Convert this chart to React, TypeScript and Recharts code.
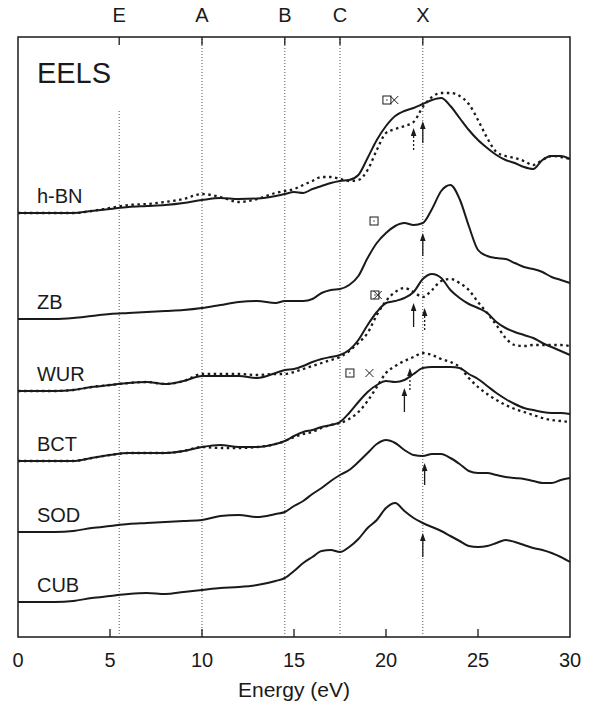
import React from "react";
import {ComposedChart, Line, Scatter, XAxis, YAxis, ReferenceLine, ReferenceArea, Label} from "recharts";

// energy grid (eV)
const energy = [0, 1, 2, 3, 4, 5, 6, 7, 8, 9, 10, 11, 12, 13, 14,
    14.5, 15, 15.5, 16, 16.5, 17, 17.5, 18, 18.5, 19, 19.5, 20, 20.5, 21, 21.5, 22,
    22.5, 23, 23.5, 24, 24.5, 25, 25.5, 26, 26.5, 27, 27.5, 28, 28.5, 29, 29.5, 30];

// intensities above each spectrum's own baseline (arb. units)
const hbnSolid = [0, 0, 0, 0, 2, 4, 6, 7, 8, 10, 13, 15, 14, 14.5, 17,
    19, 21, 20, 24, 27, 30, 32, 33, 38, 55, 73, 87, 97, 102, 105, 109,
    113, 115, 107, 95, 83, 73, 65, 58, 53, 50, 46, 44, 53, 57, 57, 54];
const hbnDotted = [0, 0, 0, 0, 2, 5, 8, 9, 11, 14, 19, 16, 11, 14, 20,
    22, 24, 28, 32, 36, 36, 34, 32, 33, 43, 63, 80, 84, 87, 91, 106,
    116, 120, 120, 117, 109, 93, 75, 61, 57, 55, 52, 48, 53, 57, 56, 54];
const zbSolid = [0, 0, 0, 1, 3, 5, 6, 7, 8, 9, 11, 14, 17, 18, 16,
    18, 18, 18, 20, 26, 29, 30, 34, 43, 61, 76, 86, 93, 96, 94, 96,
    110, 128, 134, 120, 93, 69, 63, 61, 60, 56, 52, 50, 47, 42, 39, 36];
const wurSolid = [0, 0, 0, 1, 4, 6, 8, 9, 7, 10, 15, 15, 15, 13, 18,
    21, 22, 25, 29, 32, 34, 36, 41, 51, 66, 79, 88, 90, 93, 99, 112,
    117, 113, 101, 93, 87, 83, 78, 69, 63, 59, 56, 53, 48, 44, 40, 36];
const wurDotted = [0, 0, 0, 1, 4, 6, 8, 9, 7, 10, 17, 17, 17, 16, 17,
    17, 19, 22, 25, 28, 31, 34, 40, 48, 58, 76, 90, 99, 103, 99, 94,
    101, 110, 112, 108, 101, 89, 78, 66, 53, 46, 45, 46, 46, 46, 46, 45];
const bctSolid = [0, 0, 0, 0, 3, 6, 8, 8, 8, 10, 14, 16, 14, 14, 17,
    20, 25, 29, 31, 34, 36, 39, 48, 59, 69, 76, 80, 79, 81, 87, 93,
    94, 94, 94, 93, 87, 82, 75, 68, 62, 57, 53, 51, 49, 48, 48, 47];
const bctDotted = [0, 0, 0, 0, 3, 6, 8, 8, 8, 10, 14, 13, 13, 14, 17,
    20, 24, 27, 29, 33, 36, 38, 42, 49, 60, 74, 88, 95, 100, 104, 108,
    106, 102, 99, 94, 83, 74, 67, 61, 56, 52, 49, 46, 43, 41, 40, 39];
const sodSolid = [0, 0, 0, 1, 4, 6, 8, 9, 10, 11, 12, 16, 17, 15, 18,
    20, 26, 31, 38, 44, 51, 57, 62, 70, 79, 88, 92, 89, 82, 77, 76,
    78, 78, 74, 68, 61, 59, 59, 57, 55, 54, 53, 51, 49, 49, 52, 54];
const cubSolid = [0, 0, 0, 1, 4, 6, 8, 9, 8, 10, 12, 14, 15, 17, 21,
    24, 31, 39, 45, 51, 52, 50, 55, 63, 74, 82, 94, 99, 91, 84, 79,
    75, 71, 66, 61, 56, 55, 56, 59, 62, 60, 57, 54, 52, 49, 45, 40];

const spectrumNames = ["h-BN", "ZB", "WUR", "BCT", "SOD", "CUB"];
const spectrumOffsets = [424, 318, 246, 176, 105, 35];

const edgeLetters = ["E", "A", "B", "C", "X"];
const edgeEnergies = [5.5, 10, 14.5, 17.5, 22];
const xTicks = [0, 5, 10, 15, 20, 25, 30];
const innerTicks = [5, 10, 15, 20, 25];

// theoretical peak markers and arrows
const squareMarks = [{e: 20.05, v: 537}, {e: 19.35, v: 416}, {e: 19.4, v: 342}, {e: 18.04, v: 264}];
const crossMarks = [{e: 20.45, v: 537}, {e: 19.55, v: 342}, {e: 19.1, v: 264}];
const solidArrows = [
    {e: 22, from: 494, to: 516}, {e: 22, from: 381, to: 404}, {e: 21.5, from: 310, to: 334},
    {e: 21, from: 225, to: 249}, {e: 22.1, from: 152, to: 174}, {e: 22, from: 80, to: 104}];
const dottedArrows = [{e: 21.5, from: 487, to: 509}, {e: 22.1, from: 307, to: 329}, {e: 21.3, from: 247, to: 269}];

const chartData = energy.map((e, i) => ({
    e,
    hbn: spectrumOffsets[0] + hbnSolid[i],
    hbnD: spectrumOffsets[0] + hbnDotted[i],
    zb: spectrumOffsets[1] + zbSolid[i],
    wur: spectrumOffsets[2] + wurSolid[i],
    wurD: spectrumOffsets[2] + wurDotted[i],
    bct: spectrumOffsets[3] + bctSolid[i],
    bctD: spectrumOffsets[3] + bctDotted[i],
    sod: spectrumOffsets[4] + sodSolid[i],
    cub: spectrumOffsets[5] + cubSolid[i],
}));

const nameData = spectrumNames.map((name, i) => ({e: 1.03, v: spectrumOffsets[i] + 17, name}));
const titleData = [{e: 1.03, v: 564, name: "EELS"}];

const INK = "#1a1a1a";
const FONT = "'Liberation Sans', Arial, sans-serif";

const TextShape = (size: number) => (props: any) => (
    <text x={props.cx} y={props.cy} fontSize={size} fontFamily={FONT} fill={INK}
          dominantBaseline="central">{props.payload.name}</text>
);

const SquareShape = (props: any) => (
    <g>
        <rect x={props.cx - 4} y={props.cy - 4} width={8} height={8} fill="none" stroke={INK} strokeWidth={1}/>
        <rect x={props.cx - 0.6} y={props.cy - 0.6} width={1.2} height={1.2} fill={INK}/>
    </g>
);

const CrossShape = (props: any) => (
    <path d={`M${props.cx - 4},${props.cy - 4}L${props.cx + 4},${props.cy + 4}M${props.cx + 4},${props.cy - 4}L${props.cx - 4},${props.cy + 4}`}
          stroke={INK} strokeWidth={1}/>
);

const HeadShape = (props: any) => (
    <path d={`M${props.cx},${props.cy}L${props.cx - 2.8},${props.cy + 8}L${props.cx + 2.8},${props.cy + 8}Z`} fill={INK}/>
);

const App = () => {
    const lineProps = {type: "monotone" as const, dot: false, activeDot: false, isAnimationActive: false, stroke: INK};
    return (
        <div style={{marginTop: -8}}>
            <ComposedChart width={578} height={703} data={chartData}
                           margin={{top: 0, right: 16, bottom: 0, left: 10}}
                           style={{fontFamily: FONT}}>
                <XAxis dataKey="e" type="number" domain={[0, 30]} ticks={xTicks} interval={0}
                       tickLine={false} axisLine={false} tickSize={8} tickMargin={8} height={66}
                       tick={{fontSize: 20, fill: INK, fontFamily: FONT}}>
                    <Label value="Energy (eV)" position="insideBottom" offset={6}
                           fontSize={21} fill={INK} fontFamily={FONT}/>
                </XAxis>
                <XAxis xAxisId="top" orientation="top" dataKey="e" type="number" domain={[0, 30]}
                       ticks={edgeEnergies} interval={0} tickLine={false} axisLine={false}
                       tickSize={8} tickMargin={7} height={37}
                       tickFormatter={(v: number) => edgeLetters[edgeEnergies.indexOf(v)]}
                       tick={{fontSize: 20, fill: INK, fontFamily: FONT}}/>
                <YAxis type="number" domain={[0, 600]} hide allowDataOverflow/>

                {edgeEnergies.map((x, i) => (
                    <ReferenceLine key={"edge" + x} segment={[{x, y: 0}, {x, y: i === 0 ? 527 : 600}]}
                                   stroke="#555" strokeWidth={1} strokeDasharray="1 2"/>
                ))}
                {edgeEnergies.map((x) => (
                    <ReferenceLine key={"tt" + x} segment={[{x, y: 592}, {x, y: 600}]} stroke={INK} strokeWidth={1.3}/>
                ))}
                {innerTicks.map((x) => (
                    <ReferenceLine key={"bt" + x} segment={[{x, y: 0}, {x, y: 8}]} stroke={INK} strokeWidth={1.3}/>
                ))}
                <ReferenceArea x1={0} x2={30} y1={0} y2={600} fill="none" stroke={INK} strokeWidth={1.5}/>

                <Line dataKey="hbnD" {...lineProps} strokeWidth={2.3} strokeDasharray="2.5 3.5"/>
                <Line dataKey="wurD" {...lineProps} strokeWidth={2.3} strokeDasharray="2.5 3.5"/>
                <Line dataKey="bctD" {...lineProps} strokeWidth={2.3} strokeDasharray="2.5 3.5"/>
                <Line dataKey="hbn" {...lineProps} strokeWidth={2}/>
                <Line dataKey="zb" {...lineProps} strokeWidth={2}/>
                <Line dataKey="wur" {...lineProps} strokeWidth={2}/>
                <Line dataKey="bct" {...lineProps} strokeWidth={2}/>
                <Line dataKey="sod" {...lineProps} strokeWidth={2}/>
                <Line dataKey="cub" {...lineProps} strokeWidth={2}/>

                {solidArrows.map((a, i) => (
                    <ReferenceLine key={"sa" + i} segment={[{x: a.e, y: a.from}, {x: a.e, y: a.to - 4}]}
                                   stroke={INK} strokeWidth={1.3}/>
                ))}
                {dottedArrows.map((a, i) => (
                    <ReferenceLine key={"da" + i} segment={[{x: a.e, y: a.from}, {x: a.e, y: a.to - 4}]}
                                   stroke={INK} strokeWidth={1.3} strokeDasharray="2 2"/>
                ))}
                <Scatter data={solidArrows.concat(dottedArrows).map((a) => ({e: a.e, v: a.to}))} dataKey="v"
                         shape={HeadShape} isAnimationActive={false}/>
                <Scatter data={squareMarks} dataKey="v" shape={SquareShape} isAnimationActive={false}/>
                <Scatter data={crossMarks} dataKey="v" shape={CrossShape} isAnimationActive={false}/>
                <Scatter data={nameData} dataKey="v" shape={TextShape(20)} isAnimationActive={false}/>
                <Scatter data={titleData} dataKey="v" shape={TextShape(29)} isAnimationActive={false}/>
            </ComposedChart>
        </div>
    );
};

export default App;
